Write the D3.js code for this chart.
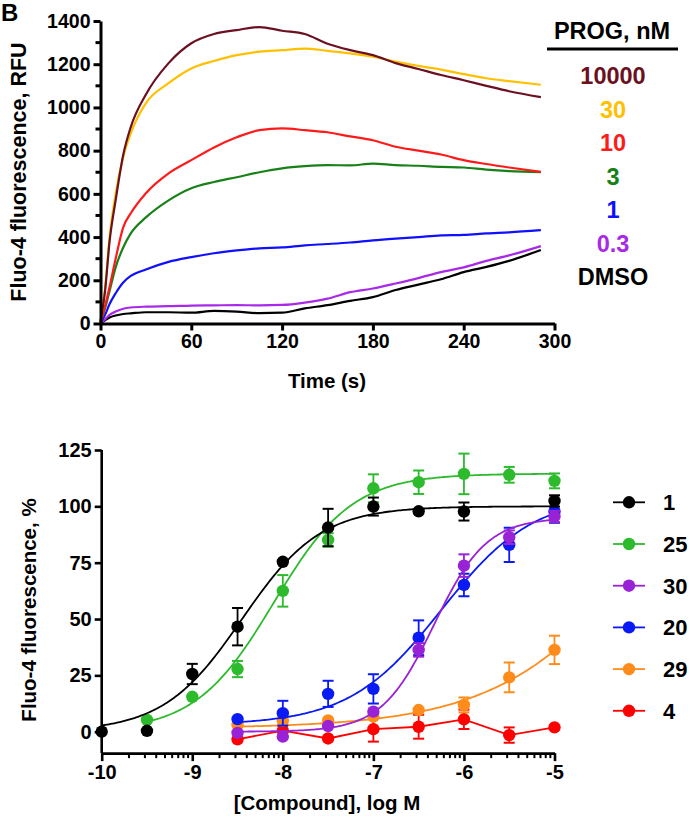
<!DOCTYPE html>
<html><head><meta charset="utf-8">
<script src="https://cdn.jsdelivr.net/npm/d3@7/dist/d3.min.js"></script>
<style>
html,body{margin:0;padding:0;background:#fff;}
svg text{font-family:"Liberation Sans",Arial,sans-serif;font-weight:bold;}
</style></head>
<body>
<svg id="c" width="690" height="817"></svg>
<script>
// ---------- Panel B top: kinetic traces ----------
const times = [0,3,6,10,15,20,30,45,60,75,90,105,120,135,150,165,180,195,210,225,240,255,270,291];
const progLabels = ["10000","30","10","3","1","0.3","DMSO"];
const progColors = ["#6b1020","#ffc000","#ff1a1a","#178017","#1010ff","#a82ae8","#000000"];
const trace10000 = [10,150,380,570,780,909,1060,1205,1297,1340,1358,1372,1355,1340,1295,1265,1242,1205,1178,1150,1126,1100,1075,1048];
const trace30    = [10,160,400,600,770,880,1020,1112,1180,1215,1242,1258,1265,1272,1262,1250,1235,1212,1192,1175,1154,1135,1122,1105];
const trace10    = [5,80,170,300,445,510,603,695,756,815,862,895,903,895,885,866,848,818,800,782,756,738,722,702];
const trace3     = [5,70,150,260,352,417,491,570,626,655,677,700,718,728,733,732,740,733,730,725,722,712,705,700];
const trace1     = [3,40,90,140,190,220,250,285,307,325,338,348,352,362,368,375,385,393,400,408,410,417,422,432];
const trace03    = [0,20,40,55,68,74,78,80,83,84,85,84,86,97,115,145,162,185,210,238,260,290,315,358];
const traceDMSO  = [0,15,28,37,44,47,52,52,50,58,55,48,50,70,85,105,122,155,180,205,238,262,290,340];
const traces = [trace10000,trace30,trace10,trace3,trace1,trace03,traceDMSO];
const topXTicks = [0,60,120,180,240,300];
const topYTicks = [0,200,400,600,800,1000,1200,1400];

// ---------- Panel bottom: concentration response ----------
const compounds = ["1","25","30","20","29","4"];
const compColors = ["#000000","#2dbb2d","#9a22d6","#0a1af5","#ff8c1a","#ff0000"];
const logX_1  = [-10,-9.5,-9,-8.5,-8,-7.5,-7,-6.5,-6,-5];
const mean_1  = [0,0.4,25.6,46.6,75.4,90.6,99.9,97.8,97.7,102.4];
const sem_1   = [0,0,4.5,8.3,0,8.3,4,0,4,2.5];
const logX_25 = [-9.5,-9,-8.5,-8,-7.5,-7,-6.5,-6,-5.5,-5];
const mean_25 = [5.2,15.5,27.8,62.5,85.1,108,110.7,114.4,114,111.3];
const sem_25  = [0,0,3.6,7,3,6.2,5.2,9,3.5,3.3];
const logX_30 = [-8.5,-8,-7.5,-7,-6.5,-6,-5.5,-5];
const mean_30 = [-0.5,-2.2,2.5,8.9,36.3,73.7,86.3,95.5];
const sem_30  = [0,0,0,0,3,5,3,2.5];
const logX_20 = [-8.5,-8,-7.5,-7,-6.5,-6,-5.5,-5];
const mean_20 = [5.6,8.2,16.8,19,41.7,65.1,82.9,97.7];
const sem_20  = [0,5.5,5.8,6.5,7.7,5,7.6,5];
const logX_29 = [-8.5,-8,-7.5,-7,-6.5,-6,-5.5,-5];
const mean_29 = [3,4.8,5.0,6.7,9.6,11.9,24.1,36.3];
const sem_29  = [0,0,0,0,0,3.3,6.6,6.3];
const logX_4  = [-8.5,-8,-7.5,-7,-6.5,-6,-5.5,-5];
const mean_4  = [-3.4,0.5,-3.0,1.1,2.2,5.5,-1.5,1.9];
const sem_4   = [0,0,0,5.5,5.3,4.3,3.4,0];
// fitted curve parameters: [bottom, top, logEC50, hill, fromLogX]
const fit_1  = [0,100,-8.45,1.0,-10];
const fit_25 = [0,114.5,-8.1,1.0,-9.5];
const fit_30 = [0,95,-6.33,1.5,-8.5];
const fit_20 = [3,105,-6.25,0.85,-8.5];
const fit_29 = [1.5,186.5,-3.72,0.5,-8.5];
const fit_4  = null; // connected points
const botXTicks = [-10,-9,-8,-7,-6,-5];
const botYTicks = [0,25,50,75,100,125];

const svg = d3.select("#c");
const FONT = 19.5;

// ===== TOP CHART =====
const xT = d3.scaleLinear().domain([0,300]).range([100.5,554.5]);
const yT = d3.scaleLinear().domain([0,1400]).range([323.5,21]);
const gT = svg.append("g");

const lineT = d3.line().x((d,i)=>xT(times[i])).y(d=>yT(d)).curve(d3.curveMonotoneX);
traces.slice().reverse().forEach((tr,k)=>{
  const i = traces.length-1-k;
  gT.append("path").attr("d",lineT(tr)).attr("fill","none")
    .attr("stroke",progColors[i]).attr("stroke-width",2.2).attr("stroke-linejoin","round");
});

const yAxT = d3.axisLeft(yT).tickValues(topYTicks).tickSize(7).tickSizeOuter(0).tickPadding(3).tickFormat(d3.format("d"));
const gyT = gT.append("g").attr("transform","translate(100.5,0)").call(yAxT);
gyT.selectAll(".tick text").attr("font-size",FONT).attr("fill","#000");
// minor ticks
gyT.selectAll(".minor").data(d3.range(100,1400,200)).enter().append("line").attr("class","minor")
  .attr("x1",-5).attr("x2",0).attr("y1",d=>yT(d)).attr("y2",d=>yT(d)).attr("stroke","#000").attr("stroke-width",3);
const xAxT = d3.axisBottom(xT).tickValues(topXTicks).tickSize(7).tickSizeOuter(0).tickPadding(4).tickFormat(d3.format("d"));
const gxT = gT.append("g").attr("transform","translate(0,323.5)").call(xAxT);
gxT.selectAll(".tick text").attr("font-size",FONT).attr("fill","#000");
[gyT,gxT].forEach(g=>{g.selectAll(".domain").attr("stroke","#000").attr("stroke-width",3);
  g.selectAll(".tick line").attr("stroke","#000").attr("stroke-width",3);});

gT.append("text").attr("x",327).attr("y",388).attr("text-anchor","middle").attr("font-size",20.5).text("Time (s)");
gT.append("text").attr("transform","translate(26,172) rotate(-90)").attr("text-anchor","middle")
  .attr("font-size",21.5).text("Fluo-4 fluorescence, RFU");
gT.append("text").attr("x",1).attr("y",21).attr("font-size",24).text("B");

// top legend
gT.append("text").attr("x",612).attr("y",39).attr("text-anchor","middle").attr("font-size",23.5).text("PROG, nM");
gT.append("line").attr("x1",547).attr("x2",678).attr("y1",49).attr("y2",49).attr("stroke","#000").attr("stroke-width",3);
progLabels.forEach((l,i)=>{
  gT.append("text").attr("x",613).attr("y",84+i*33.5).attr("text-anchor","middle").attr("font-size",23.5)
    .attr("fill",progColors[i]).text(l);
});

// ===== BOTTOM CHART =====
const xB = d3.scaleLinear().domain([-10,-5]).range([101.7,554.5]);
const yB = d3.scaleLinear().domain([0,125]).range([731.7,450]);
const yMin = -9.5;
const gB = svg.append("g");

const series = [
  {x:logX_1,y:mean_1,e:sem_1,fit:fit_1},
  {x:logX_25,y:mean_25,e:sem_25,fit:fit_25},
  {x:logX_30,y:mean_30,e:sem_30,fit:fit_30},
  {x:logX_20,y:mean_20,e:sem_20,fit:fit_20},
  {x:logX_29,y:mean_29,e:sem_29,fit:fit_29},
  {x:logX_4,y:mean_4,e:sem_4,fit:fit_4}
];
const hill = (p,x)=>p[0]+(p[1]-p[0])/(1+Math.pow(10,(p[2]-x)*p[3]));
const lineB = d3.line().x(d=>xB(d[0])).y(d=>yB(d[1]));

// draw order: red, orange, blue, purple, green, black (black on top)
const order = [5,4,3,2,1,0];
order.forEach(i=>{
  const s = series[i], col = compColors[i];
  const g = gB.append("g");
  let pts;
  if (s.fit) {
    pts = d3.range(s.fit[4], -5.0001, 0.02).map(x=>[x,hill(s.fit,x)]);
    pts.push([-5,hill(s.fit,-5)]);
  } else {
    pts = s.x.map((x,j)=>[x,s.y[j]]);
  }
  g.append("path").attr("d",lineB(pts)).attr("fill","none").attr("stroke",col).attr("stroke-width",1.8);
  s.x.forEach((x,j)=>{
    if (s.e[j]>0){
      const cx = xB(x), y1 = yB(s.y[j]+s.e[j]), y2 = yB(s.y[j]-s.e[j]);
      g.append("line").attr("x1",cx).attr("x2",cx).attr("y1",y1).attr("y2",y2).attr("stroke",col).attr("stroke-width",1.8);
      [y1,y2].forEach(yy=>g.append("line").attr("x1",cx-5.5).attr("x2",cx+5.5).attr("y1",yy).attr("y2",yy)
        .attr("stroke",col).attr("stroke-width",2));
    }
  });
  g.selectAll("circle").data(s.x).enter().append("circle")
    .attr("cx",d=>xB(d)).attr("cy",(d,j)=>yB(s.y[j])).attr("r",6.2).attr("fill",col);
});

// axes
const yAxB = d3.axisLeft(yB).tickValues(botYTicks).tickSize(7).tickSizeOuter(0).tickPadding(3).tickFormat(d3.format("d"));
const gyB = gB.append("g").attr("transform","translate(101.7,0)").call(yAxB);
gyB.select(".domain").attr("d",`M0,${yB(125)}V${yB(yMin)}`);
const xAxB = d3.axisBottom(xB).tickValues(botXTicks).tickSize(8).tickSizeOuter(0).tickPadding(4)
  .tickFormat(d=>d3.format("d")(d).replace("−","-"));
const gxB = gB.append("g").attr("transform",`translate(0,${yB(yMin)})`).call(xAxB);
const minorX = [];
botXTicks.slice(0,-1).forEach(d=>{ for(let k=2;k<=9;k++) minorX.push(d+Math.log10(k)); });
gxB.selectAll(".minor").data(minorX).enter().append("line").attr("class","minor")
  .attr("x1",d=>xB(d)).attr("x2",d=>xB(d)).attr("y1",0).attr("y2",5).attr("stroke","#000").attr("stroke-width",2);
[gyB,gxB].forEach(g=>{g.selectAll(".domain").attr("stroke","#000").attr("stroke-width",2.6);
  g.selectAll(".tick line").attr("stroke","#000").attr("stroke-width",2.6);
  g.selectAll(".tick text").attr("font-size",FONT+0.5).attr("fill","#000");});

gB.append("text").attr("x",327).attr("y",810).attr("text-anchor","middle").attr("font-size",20.5).text("[Compound], log M");
gB.append("text").attr("transform","translate(36,610) rotate(-90)").attr("text-anchor","middle")
  .attr("font-size",20.5).text("Fluo-4 fluorescence, %");

// bottom legend
compounds.forEach((c,i)=>{
  const yy = 502.3 + i*41.7;
  const g = gB.append("g");
  g.append("line").attr("x1",613).attr("x2",645).attr("y1",yy).attr("y2",yy).attr("stroke",compColors[i]).attr("stroke-width",1.8);
  g.append("circle").attr("cx",629).attr("cy",yy).attr("r",6.2).attr("fill",compColors[i]);
  g.append("text").attr("x",663).attr("y",yy+8).attr("font-size",22).attr("fill","#000").text(c);
});
</script>
</body></html>
